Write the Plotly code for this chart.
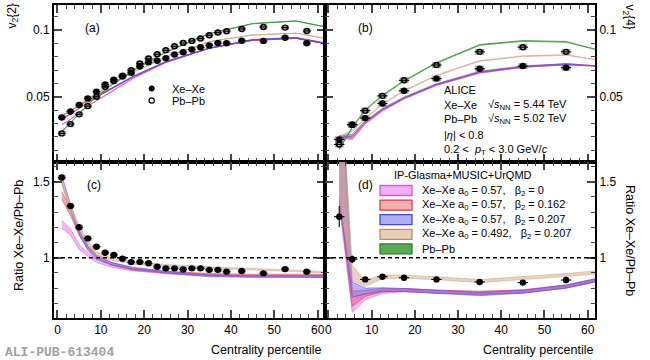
import plotly.graph_objects as go

# ---------------- data ----------------
cent_v22 = [1, 3, 5, 7, 9, 11, 13, 15, 17, 19, 21, 23, 25, 27, 29, 31, 33, 35, 37, 39,
            42.5, 47.5, 52.5, 57.5]
v22_xexe = [0.0345, 0.039, 0.0438, 0.0488, 0.0538, 0.0592, 0.0629, 0.0653, 0.068, 0.0728,
            0.0759, 0.0771, 0.079, 0.0818, 0.0835, 0.0856, 0.0872, 0.0886, 0.0904, 0.0902,
            0.0921, 0.092, 0.0944, 0.0903]
v22_pbpb = [0.0225, 0.0295, 0.0368, 0.043, 0.05, 0.0575, 0.0618, 0.0658, 0.070, 0.075,
            0.0788, 0.082, 0.085, 0.088, 0.0905, 0.092, 0.0938, 0.0963, 0.0983, 0.0993,
            0.101, 0.1025, 0.102, 0.0995]
ratio_v22 = [1.528, 1.34, 1.2, 1.127, 1.072, 1.033, 1.018, 0.993, 0.971, 0.971, 0.963, 0.94,
             0.93, 0.93, 0.923, 0.93, 0.93, 0.92, 0.92, 0.908, 0.912, 0.897, 0.925, 0.908]

cent_v24 = [2.5, 5.5, 8.5, 12.5, 17.5, 25, 35, 45, 55]
v24_xexe = [0.018, 0.0289, 0.034, 0.045, 0.0545, 0.0637, 0.0711, 0.0731, 0.0719]
v24_pbpb = [0.0142, 0.0292, 0.0396, 0.0507, 0.0624, 0.0739, 0.0838, 0.0873, 0.0838]
ratio_v24 = [1.27, 0.99, 0.857, 0.875, 0.868, 0.857, 0.84, 0.836, 0.853]
ratio_v24_err = [0.07, 0.025, 0.012, 0.01, 0.008, 0.008, 0.008, 0.008, 0.008]

# IP-Glasma+MUSIC+UrQMD model curves
model_cent_v22 = [1, 3, 5, 7, 9, 12.5, 17.5, 25, 35, 45, 55, 65]
v22_b0 = [0.029, 0.033, 0.038, 0.043, 0.047, 0.054, 0.064, 0.076, 0.0865, 0.0925, 0.094, 0.088]
v22_b162 = [0.0335, 0.037, 0.0415, 0.046, 0.05, 0.056, 0.065, 0.076, 0.0865, 0.0925, 0.094, 0.088]
v22_b207 = [0.0357, 0.0395, 0.0435, 0.047, 0.051, 0.0565, 0.0655, 0.0765, 0.0865, 0.093, 0.0945, 0.0885]
v22_a492 = [0.036, 0.0395, 0.0438, 0.0485, 0.0525, 0.059, 0.0685, 0.08, 0.0915, 0.0965, 0.0978, 0.092]
v22_pb = [0.0238, 0.0305, 0.0375, 0.044, 0.05, 0.059, 0.07, 0.0835, 0.0975, 0.105, 0.107, 0.1005]

ratio22_b0 = [1.22, 1.17, 1.07, 1.02, 0.98, 0.945, 0.92, 0.9, 0.885, 0.875, 0.875, 0.875]
ratio22_b162 = [1.41, 1.3, 1.16, 1.07, 1.01, 0.96, 0.925, 0.905, 0.89, 0.885, 0.885, 0.885]
ratio22_b207 = [1.52, 1.33, 1.17, 1.06, 1.0, 0.96, 0.93, 0.905, 0.88, 0.875, 0.875, 0.875]
ratio22_a492 = [1.5, 1.33, 1.2, 1.1, 1.03, 0.99, 0.965, 0.95, 0.935, 0.925, 0.915, 0.9]
ratio22_err = [0.025, 0.02, 0.015, 0.012, 0.01, 0.008, 0.007, 0.006, 0.006, 0.006, 0.006, 0.006]

model_cent_v24 = [2.5, 5.5, 8.5, 12.5, 17.5, 25, 35, 45, 55, 65]
v24_b0 = [0.020, 0.0184, 0.0297, 0.0396, 0.0488, 0.059, 0.068, 0.0725, 0.0745, 0.073]
v24_b162 = [0.020, 0.0197, 0.0306, 0.0402, 0.0488, 0.059, 0.0685, 0.0725, 0.0745, 0.073]
v24_b207 = [0.020, 0.0213, 0.0315, 0.041, 0.0495, 0.0595, 0.0688, 0.0728, 0.0745, 0.073]
v24_a492 = [0.020, 0.0243, 0.0335, 0.0445, 0.0545, 0.066, 0.077, 0.0805, 0.0815, 0.0765]
v24_pb = [0.0105, 0.027, 0.040, 0.051, 0.062, 0.0755, 0.089, 0.092, 0.0913, 0.0834]
v24_err = [0.0008, 0.0008, 0.0005, 0.0004, 0.0004, 0.0004, 0.0004, 0.0004, 0.0004, 0.0004]
v24_pb_err = [0.0003] * 10

ratio24_b0 = [1.85, 0.69, 0.743, 0.776, 0.787, 0.776, 0.765, 0.78, 0.81, 0.87]
ratio24_b162 = [1.88, 0.73, 0.765, 0.787, 0.787, 0.776, 0.77, 0.776, 0.81, 0.87]
ratio24_b207 = [1.9, 0.79, 0.78, 0.79, 0.787, 0.776, 0.76, 0.776, 0.81, 0.87]
ratio24_a492 = [1.9, 0.9, 0.83, 0.875, 0.875, 0.865, 0.846, 0.864, 0.886, 0.91]
ratio24_err = [0.5, 0.05, 0.02, 0.012, 0.01, 0.01, 0.01, 0.01, 0.01, 0.01]

legend_labels = ["Xe\u2013Xe a<sub>0</sub> = 0.57,\u00a0\u00a0 \u03b2<sub>2</sub> = 0",
                 "Xe\u2013Xe a<sub>0</sub> = 0.57,\u00a0\u00a0 \u03b2<sub>2</sub> = 0.162",
                 "Xe\u2013Xe a<sub>0</sub> = 0.57,\u00a0\u00a0 \u03b2<sub>2</sub> = 0.207",
                 "Xe\u2013Xe a<sub>0</sub> = 0.492,\u00a0\u00a0 \u03b2<sub>2</sub> = 0.207",
                 "Pb\u2013Pb"]

# ---------------- style ----------------
W, H = 650, 360
FONT = "Liberation Sans, Arial, sans-serif"
COL = {
    "b0": ("rgba(235,120,235,0.55)", "rgba(225,80,225,0.85)"),
    "b162": ("rgba(230,90,105,0.5)", "rgba(215,50,70,0.85)"),
    "b207": ("rgba(110,110,240,0.5)", "rgba(80,80,225,0.85)"),
    "a492": ("rgba(215,178,150,0.6)", "rgba(205,165,135,0.85)"),
    "pb": ("rgba(70,160,70,0.6)", "rgba(55,150,55,0.95)"),
}
LEG_FILL = ["rgba(240,175,240,1)", "rgba(240,175,175,1)", "rgba(175,175,240,1)",
            "rgba(232,205,185,1)", "rgba(90,170,90,1)"]
LEG_LINE = ["rgb(225,80,225)", "rgb(220,60,60)", "rgb(70,70,225)", "rgb(190,140,110)",
            "rgb(40,130,40)"]

XL = (54, 325)
XR = (325, 595)
YT = (5, 162)
YB = (162, 318)


def px(x):
    return x / W


def py(y):
    return 1 - y / H


fig = go.Figure()


def band(x, y, e, key, xa, ya, lw=0.8):
    xs = list(x) + list(x)[::-1]
    ys = [a + b for a, b in zip(y, e)] + [a - b for a, b in zip(y, e)][::-1]
    fig.add_trace(go.Scatter(x=xs, y=ys, fill="toself", fillcolor=COL[key][0], mode="lines",
                             line=dict(color=COL[key][1], width=lw), hoverinfo="skip",
                             showlegend=False, xaxis=xa, yaxis=ya))


def sysbox(x, y, s, w, xa, ya):
    fig.add_trace(go.Bar(x=x, y=[2 * s] * len(y), base=[v - s for v in y], width=w,
                         marker=dict(color="rgba(105,105,105,0.65)", line=dict(width=0)),
                         showlegend=False, hoverinfo="skip", xaxis=xa, yaxis=ya))


def points(x, y, xa, ya, open_=False, ex=1.0, ey=None):
    fig.add_trace(go.Scatter(
        x=x, y=y, mode="markers", xaxis=xa, yaxis=ya, showlegend=False,
        marker=dict(symbol="circle-open" if open_ else "circle", size=5, color="black",
                    line=dict(color="black", width=1.4)),
        error_x=dict(type="constant", value=ex, thickness=1.1, width=0, color="black"),
        error_y=(dict(type="data", array=ey, thickness=1.1, width=0, color="black")
                 if ey is not None else dict(visible=False))))


thin = [0.00012] * len(model_cent_v22)
# panel (a)
for arr, k in [(v22_b0, "b0"), (v22_b162, "b162"), (v22_b207, "b207"), (v22_a492, "a492"),
               (v22_pb, "pb")]:
    band(model_cent_v22, arr, thin, k, "x", "y", lw=0.9)
sysbox(cent_v22, v22_xexe, 0.0018, 1.7, "x", "y")
sysbox(cent_v22, v22_pbpb, 0.0018, 1.7, "x", "y")
points(cent_v22, v22_xexe, "x", "y", ex=0.9)
points(cent_v22, v22_pbpb, "x", "y", open_=True, ex=0.9)

# panel (b)
for arr, k in [(v24_b0, "b0"), (v24_b162, "b162"), (v24_b207, "b207")]:
    band(model_cent_v24, arr, v24_err, k, "x2", "y2", lw=0.6)
band(model_cent_v24, v24_a492, v24_pb_err, "a492", "x2", "y2", lw=0.7)
band(model_cent_v24, v24_pb, v24_pb_err, "pb", "x2", "y2", lw=0.8)
sysbox(cent_v24, v24_xexe, 0.0022, 2.0, "x2", "y2")
sysbox(cent_v24, v24_pbpb, 0.0022, 2.0, "x2", "y2")
points(cent_v24, v24_xexe, "x2", "y2", ex=1.2)
points(cent_v24, v24_pbpb, "x2", "y2", open_=True, ex=1.2)

# panel (c)
for arr, k in [(ratio22_b0, "b0"), (ratio22_b162, "b162"), (ratio22_b207, "b207"),
               (ratio22_a492, "a492")]:
    band(model_cent_v22, arr, ratio22_err, k, "x3", "y3", lw=0.6)
sysbox(cent_v22, ratio_v22, 0.015, 1.7, "x3", "y3")
points(cent_v22, ratio_v22, "x3", "y3", ex=0.9)

# panel (d)
for arr, k in [(ratio24_b0, "b0"), (ratio24_b162, "b162"), (ratio24_b207, "b207"),
               (ratio24_a492, "a492")]:
    band(model_cent_v24, arr, ratio24_err, k, "x4", "y4", lw=0.6)
points(cent_v24, ratio_v24, "x4", "y4", ex=1.2, ey=ratio_v24_err)

# ---------------- axes ----------------
XRANGE = [-0.8, 61.7]
tickfont = dict(family=FONT, size=12, color="black")


def xax(dom, labels):
    return dict(domain=dom, range=XRANGE, dtick=10, tick0=0, ticks="inside", ticklen=8,
                tickwidth=1.5, mirror="allticks", showline=True, linewidth=2, linecolor="black",
                showgrid=False, zeroline=False, showticklabels=labels, tickfont=tickfont,
                minor=dict(dtick=2, ticks="inside", ticklen=4, tickwidth=1.3, showgrid=False))


def yax(dom, rng, dtick, mdt, side):
    return dict(domain=dom, range=rng, dtick=dtick, ticks="inside", ticklen=8, tickwidth=1.5,
                mirror="allticks", showline=True, linewidth=2, linecolor="black",
                showgrid=False, zeroline=False, side=side, tickfont=tickfont,
                minor=dict(dtick=mdt, ticks="inside", ticklen=4, tickwidth=1.3, showgrid=False))


dxL = [px(XL[0]), px(XL[1])]
dxR = [px(XR[0]), px(XR[1])]
dyT = [py(YT[1]), py(YT[0])]
dyB = [py(YB[1]), py(YB[0])]
YR_T = [0.001, 0.119]
YR_B = [0.603, 1.63]

fig.update_layout(
    width=W, height=H, margin=dict(l=0, r=0, t=0, b=0),
    paper_bgcolor="white", plot_bgcolor="white", barmode="overlay", showlegend=False,
    font=dict(family=FONT, color="black"),
    xaxis=dict(xax(dxL, False), anchor="y"),
    yaxis=dict(yax(dyT, YR_T, 0.05, 0.01, "left"), anchor="x", tick0=0),
    xaxis2=dict(xax(dxR, False), anchor="y2"),
    yaxis2=dict(yax(dyT, YR_T, 0.05, 0.01, "right"), anchor="x2", tick0=0),
    xaxis3=dict(xax(dxL, True), anchor="y3"),
    yaxis3=dict(yax(dyB, YR_B, 0.5, 0.1, "left"), anchor="x3", tick0=0),
    xaxis4=dict(xax(dxR, True), anchor="y4"),
    yaxis4=dict(yax(dyB, YR_B, 0.5, 0.1, "right"), anchor="x4", tick0=0),
)

shapes = []
for xr, yr in [("x3 domain", "y3"), ("x4 domain", "y4")]:
    shapes.append(dict(type="line", xref=xr, yref=yr, x0=0, x1=1, y0=1, y1=1,
                       line=dict(color="black", width=1.6, dash="4px,3px")))

# legend of panel (a)
r = 2.6
shapes.append(dict(type="circle", xref="paper", yref="paper",
                   x0=px(151.7 - r), x1=px(151.7 + r), y0=py(88.5 + r), y1=py(88.5 - r),
                   fillcolor="black", line=dict(color="black", width=1)))
shapes.append(dict(type="circle", xref="paper", yref="paper",
                   x0=px(151.7 - r), x1=px(151.7 + r), y0=py(100.5 + r), y1=py(100.5 - r),
                   fillcolor="white", line=dict(color="black", width=1.2)))

# legend of panel (d)
leg_rows = [190.5, 205.1, 219.7, 234.3, 248.9]
for i, yy in enumerate(leg_rows):
    shapes.append(dict(type="rect", xref="paper", yref="paper",
                       x0=px(380), x1=px(412), y0=py(yy + 5), y1=py(yy - 5),
                       fillcolor=LEG_FILL[i], line=dict(color=LEG_LINE[i], width=1.3)))
fig.update_layout(shapes=shapes)

ann = []


def text(x, y, s, size=11, xanchor="left", yanchor="middle", angle=0, color="black",
         family=FONT):
    ann.append(dict(x=px(x), y=py(y), xref="paper", yref="paper", text=s, showarrow=False,
                    xanchor=xanchor, yanchor=yanchor, textangle=angle,
                    font=dict(size=size, color=color, family=family)))


text(83, 28, "(a)", 12)
text(356, 28, "(b)", 12)
text(85, 185, "(c)", 12)
text(356, 185, "(d)", 12)
text(170, 88.5, "Xe\u2013Xe", 11)
text(170, 100.5, "Pb\u2013Pb", 11)

text(442, 90, "ALICE", 11)
text(442, 104.5, "Xe\u2013Xe", 11)
text(486, 104.5, "\u221a<i>s</i><sub>NN</sub> = 5.44 TeV", 11)
text(442, 119.5, "Pb\u2013Pb", 11)
text(486, 119.5, "\u221a<i>s</i><sub>NN</sub> = 5.02 TeV", 11)
text(442, 134.5, "|<i>\u03b7</i>| &lt; 0.8", 11)
text(442, 149.5, "0.2 &lt;\u00a0 <i>p</i><sub>T</sub> &lt; 3.0 GeV/<i>c</i>", 11)

text(463, 175, "IP-Glasma+MUSIC+UrQMD", 11, xanchor="center")
for i, yy in enumerate(leg_rows):
    text(420, yy, legend_labels[i], 11)

text(13, 2, "v<sub>2</sub>{2}", 12, xanchor="center", yanchor="top", angle=-90)
text(628, 2, "v<sub>2</sub>{4}", 12, xanchor="center", yanchor="top", angle=90)
text(19, 236, "Ratio Xe\u2013Xe/Pb\u2013Pb", 12.5, xanchor="center", angle=-90)
text(630, 240, "Ratio Xe\u2013Xe/Pb\u2013Pb", 12.5, xanchor="center", angle=90)
text(324, 350, "Centrality percentile", 12.5, xanchor="right")
text(596, 350, "Centrality percentile", 12.5, xanchor="right")
text(3, 352, "<b>ALI-PUB-613404</b>", 13, color="#a0a0a0",
     family="Liberation Mono, Courier New, monospace")

fig.update_layout(annotations=ann)
fig.write_html("out.html", config={"displayModeBar": False},
               post_script="document.body.style.margin='0';document.body.style.overflow='hidden';")
